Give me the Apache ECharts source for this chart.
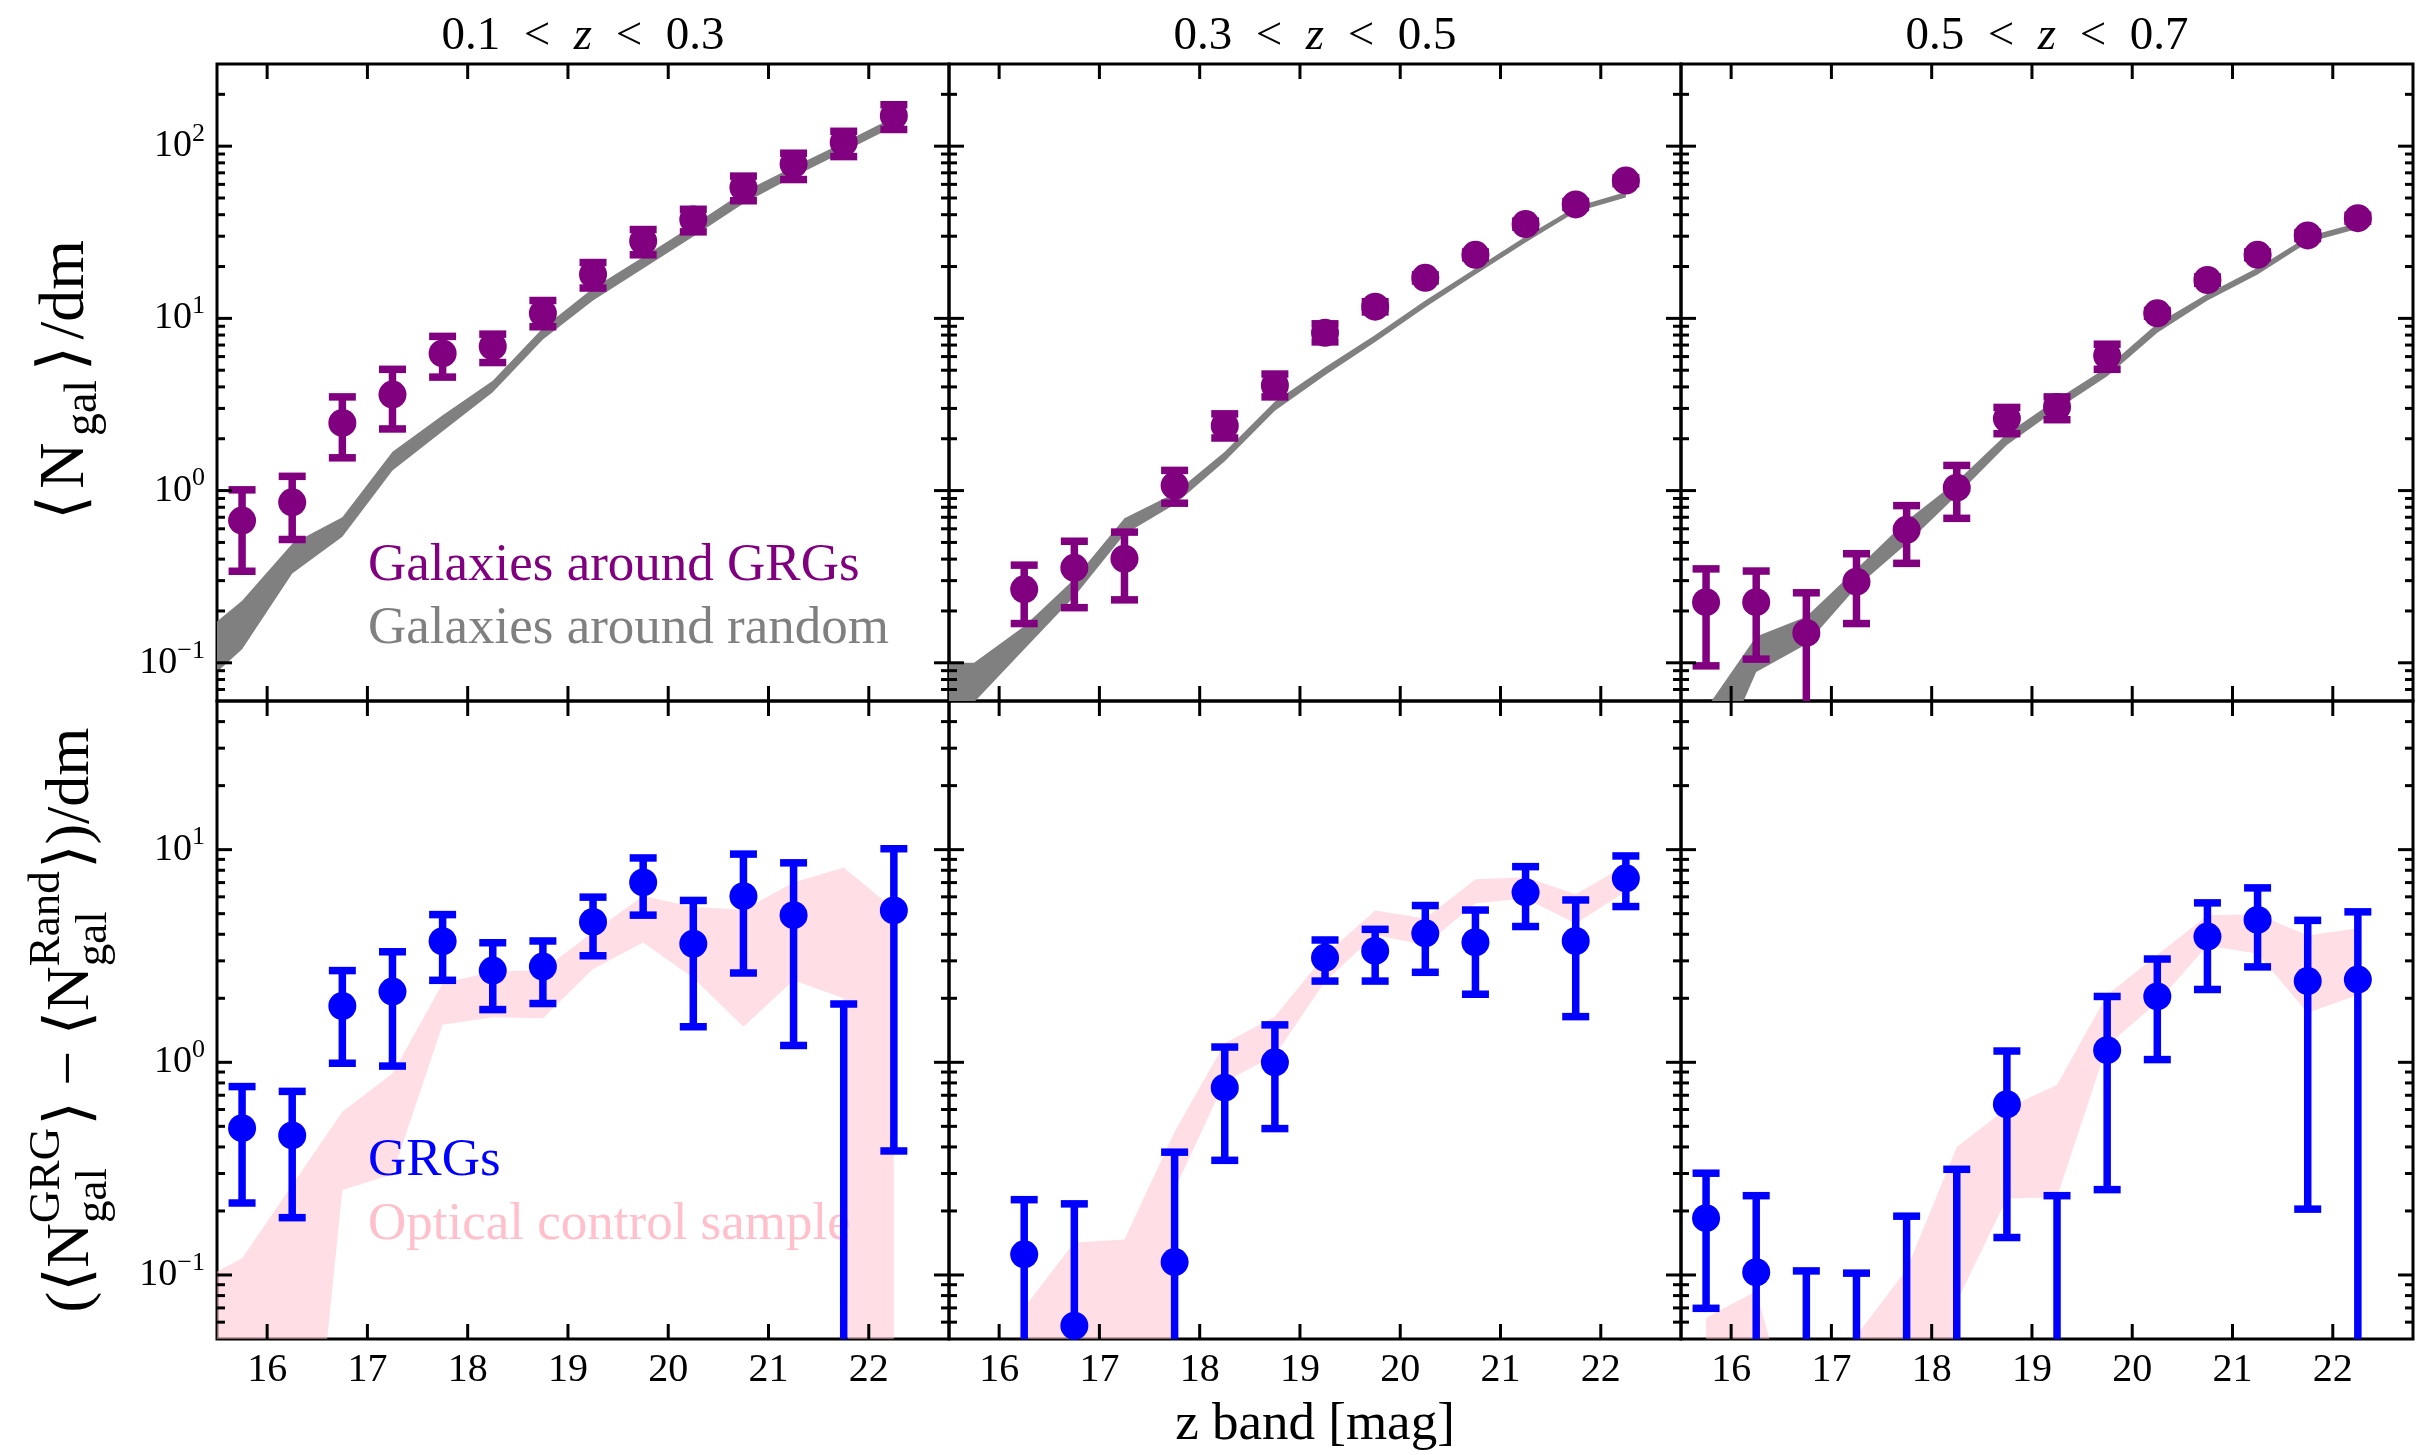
<!DOCTYPE html>
<html><head><meta charset="utf-8">
<script src="https://cdn.jsdelivr.net/npm/echarts@6/dist/echarts.min.js"></script>
<style>html,body{margin:0;padding:0;background:#fff}#c{width:2434px;height:1455px}</style>
</head><body><div id="c"></div>
<script>
// ---------------- data ----------------
const MAG = [15.75, 16.25, 16.75, 17.25, 17.75, 18.25, 18.75, 19.25, 19.75, 20.25, 20.75, 21.25, 21.75, 22.25];
const MAG_EXT = [15.25, 15.75, 16.25, 16.75, 17.25, 17.75, 18.25, 18.75, 19.25, 19.75, 20.25, 20.75, 21.25, 21.75, 22.25];
const MAG_FROM_1625 = [16.25, 16.75, 17.25, 17.75, 18.25, 18.75, 19.25, 19.75, 20.25, 20.75, 21.25, 21.75, 22.25];

const X_TICKS = [16, 17, 18, 19, 20, 21, 22];
const X_RANGE = [15.5, 22.8];
const Y_RANGE_TOP = [0.06, 300];
const Y_RANGE_BOT = [0.05, 50];
const Y_LABEL_EXP_TOP = [-1, 0, 1, 2];
const Y_LABEL_EXP_BOT = [-1, 0, 1];

const TITLES = [['0.1', '0.3'], ['0.3', '0.5'], ['0.5', '0.7']];
const LEGEND_TOP = ['Galaxies around GRGs', 'Galaxies around random'];
const LEGEND_BOT = ['GRGs', 'Optical control sample'];
const X_NAME = 'z band [mag]';

// top row: galaxies around GRGs (points with errors)
const GRG_Z1 = [0.67, 0.855, 2.47, 3.61, 6.26, 6.87, 10.7, 18.0, 28.1, 37.5, 57.6, 78.7, 105, 150];
const GRG_Z1_LO = [0.34, 0.52, 1.55, 2.28, 4.56, 5.54, 8.94, 15.0, 23.4, 31.8, 48.2, 64, 87, 125];
const GRG_Z1_HI = [1.01, 1.21, 3.5, 5.06, 7.86, 8.1, 12.7, 21.1, 32.8, 43, 67, 91, 122, 174];

const GRG_Z2 = [null, 0.267, 0.356, 0.402, 1.07, 2.38, 4.08, 8.25, 11.7, 17.2, 23.4, 35.3, 45.9, 63.1];
const GRG_Z2_LO = [null, 0.169, 0.209, 0.232, 0.845, 2.02, 3.5, 7.3, 10.9, 16.5, 22.5, 33.9, 44.1, 60.6];
const GRG_Z2_HI = [null, 0.369, 0.508, 0.574, 1.31, 2.79, 4.75, 9.3, 12.5, 17.9, 24.3, 36.7, 47.7, 65.6];

const GRG_Z3 = [0.225, 0.225, 0.149, 0.296, 0.592, 1.04, 2.62, 3.06, 6.08, 10.7, 16.7, 23.4, 30.3, 38.2];
const GRG_Z3_LO = [0.096, 0.105, 0.04, 0.169, 0.378, 0.69, 2.14, 2.58, 5.06, 10.3, 16.0, 22.5, 29.1, 36.7];
const GRG_Z3_HI = [0.351, 0.341, 0.255, 0.43, 0.818, 1.40, 3.04, 3.5, 7.08, 11.1, 17.4, 24.3, 31.5, 39.7];

// top row: galaxies around random positions (band)
const RAND_Z1_LO = [0.065, 0.12, 0.33, 0.54, 1.31, 2.21, 3.72, 7.53, 12.7, 19.5, 29.9, 46.5, 66.4, 92.9, 130];
const RAND_Z1_HI = [0.132, 0.229, 0.492, 0.70, 1.68, 2.74, 4.34, 8.78, 14.96, 22.7, 34.8, 54.2, 75.9, 105, 147];
const RAND_Z2_LO = [0.04, 0.059, 0.12, 0.243, 0.557, 0.83, 1.48, 2.91, 4.67, 7.3, 11.6, 18, 27.6, 41.4, 50.3];
const RAND_Z2_HI = [0.1, 0.1, 0.163, 0.307, 0.69, 0.966, 1.68, 3.29, 5.21, 8.0, 12.7, 19.5, 29.9, 44.5, 54.2];
const RAND_Z3_LO = [0.019, 0.0885, 0.128, 0.275, 0.492, 0.937, 1.84, 2.97, 4.61, 8.25, 12.7, 18, 27.6, 33.2];
const RAND_Z3_HI = [0.054, 0.142, 0.185, 0.351, 0.668, 1.13, 2.14, 3.39, 5.21, 9.33, 13.9, 19.7, 29.9, 35.9];

// bottom row: excess around GRGs (points with errors)
const EXC_Z1 = [0.49, 0.453, 1.84, 2.15, 3.71, 2.7, 2.82, 4.57, 7.01, 3.61, 6.04, 4.92, null, 5.18];
const EXC_Z1_LO = [0.218, 0.186, 0.99, 0.96, 2.43, 1.77, 1.89, 3.17, 4.92, 1.47, 2.63, 1.2, 0.001, 0.383];
const EXC_Z1_HI = [0.769, 0.73, 2.7, 3.31, 4.95, 3.65, 3.72, 5.98, 9.14, 5.77, 9.53, 8.67, 1.88, 10.1];

const EXC_Z2 = [null, 0.125, 0.0577, null, 0.115, 0.76, 1.0, 3.1, 3.34, 4.04, 3.67, 6.3, 3.72, 7.33];
const EXC_Z2_LO = [null, 0.001, 0.001, null, 0.001, 0.346, 0.488, 2.41, 2.41, 2.65, 2.09, 4.35, 1.64, 5.4];
const EXC_Z2_HI = [null, 0.226, 0.216, null, 0.378, 1.18, 1.5, 3.76, 4.22, 5.46, 5.2, 8.32, 5.8, 9.34];

const EXC_Z3 = [0.185, 0.103, null, null, null, null, 0.635, null, 1.14, 2.04, 3.9, 4.67, 2.41, 2.45];
const EXC_Z3_LO = [0.0697, 0.001, 0.001, 0.001, 0.001, 0.001, 0.15, 0.001, 0.252, 1.03, 2.2, 2.81, 0.204, 0.001];
const EXC_Z3_HI = [0.301, 0.236, 0.1045, 0.102, 0.189, 0.314, 1.13, 0.236, 2.04, 3.06, 5.62, 6.61, 4.65, 5.1];

// bottom row: optical control sample (band)
const CTRL_Z1_LO = [0.001, 0.001, 0.0012, 0.251, 0.298, 1.5, 1.63, 1.61, 2.75, 3.66, 2.49, 1.47, 2.43, 2.0, 1e-20];
const CTRL_Z1_HI = [0.09, 0.12, 0.265, 0.586, 0.887, 2.35, 2.67, 2.72, 4.1, 6.05, 5.37, 5.21, 7.0, 8.24, 5.26];
const CTRL_Z2_LO = [1e-20, 1e-20, 1e-20, 0.252, 0.81, 1.08, 2.4, 3.97, 3.56, 5.6, 5.9, 4.5, 6.35];
const CTRL_Z2_HI = [0.0703, 0.142, 0.147, 0.471, 1.23, 1.64, 3.2, 5.17, 4.75, 7.25, 7.41, 6.17, 8.47];
const CTRL_Z3_LO = [1e-20, 1e-20, 1e-20, 1e-20, 1e-20, 0.075, 0.229, 0.232, 1.2, 1.91, 3.54, 3.24, 1.71, 2.07];
const CTRL_Z3_HI = [0.063, 0.0838, 0.012, 0.052, 0.106, 0.4, 0.608, 0.785, 2.08, 3.2, 4.92, 4.97, 3.95, 4.27];

// ---------------- style / layout ----------------
const PURPLE = '#800080', BLUE = '#0000ff', GRAY = '#808080';
const PINK_BAND = 'rgba(255,192,203,0.5)', PINK_TEXT = '#ffc0cb';
const FONT = '"Liberation Serif", "DejaVu Serif", "DejaVu Sans", serif';
const GRID_LEFT = [217, 949, 1681], GRID_W = 732;
const ROW_TOP = [64, 701], ROW_H = [637, 638];

const PANELS = [
  {val: GRG_Z1, lo: GRG_Z1_LO, hi: GRG_Z1_HI, bx: MAG_EXT, blo: RAND_Z1_LO, bhi: RAND_Z1_HI, c: PURPLE, bc: GRAY},
  {val: GRG_Z2, lo: GRG_Z2_LO, hi: GRG_Z2_HI, bx: MAG_EXT, blo: RAND_Z2_LO, bhi: RAND_Z2_HI, c: PURPLE, bc: GRAY},
  {val: GRG_Z3, lo: GRG_Z3_LO, hi: GRG_Z3_HI, bx: MAG, blo: RAND_Z3_LO, bhi: RAND_Z3_HI, c: PURPLE, bc: GRAY},
  {val: EXC_Z1, lo: EXC_Z1_LO, hi: EXC_Z1_HI, bx: MAG_EXT, blo: CTRL_Z1_LO, bhi: CTRL_Z1_HI, c: BLUE, bc: PINK_BAND},
  {val: EXC_Z2, lo: EXC_Z2_LO, hi: EXC_Z2_HI, bx: MAG_FROM_1625, blo: CTRL_Z2_LO, bhi: CTRL_Z2_HI, c: BLUE, bc: PINK_BAND},
  {val: EXC_Z3, lo: EXC_Z3_LO, hi: EXC_Z3_HI, bx: MAG, blo: CTRL_Z3_LO, bhi: CTRL_Z3_HI, c: BLUE, bc: PINK_BAND}
];

function logTickList(min, max) {
  const out = [];
  for (let e = -3; e <= 3; e++) for (let m = 1; m <= 9; m++) {
    const v = +(m * Math.pow(10, e)).toPrecision(6);
    if (v > min * 1.0001 && v < max * 0.9999) out.push([X_RANGE[0], v, m === 1 ? 1 : 0]);
  }
  return out;
}

const grids = [], xAxes = [], yAxes = [], series = [];
for (let i = 0; i < 6; i++) {
  const row = i < 3 ? 0 : 1, col = i % 3;
  const yr = row === 0 ? Y_RANGE_TOP : Y_RANGE_BOT;
  const exps = row === 0 ? Y_LABEL_EXP_TOP : Y_LABEL_EXP_BOT;
  grids.push({left: GRID_LEFT[col], top: ROW_TOP[row], width: GRID_W, height: ROW_H[row],
    show: true, borderColor: '#000', borderWidth: 3, backgroundColor: 'rgba(0,0,0,0)',
    containLabel: false, outerBoundsMode: 'none'});
  xAxes.push({gridIndex: i, type: 'value', min: X_RANGE[0], max: X_RANGE[1],
    axisLine: {show: false}, axisTick: {show: false}, splitLine: {show: false},
    axisLabel: {show: row === 1, margin: 11, fontSize: 40, fontFamily: FONT, color: '#000',
      showMinLabel: false, showMaxLabel: false,
      formatter: v => X_TICKS.includes(v) ? String(v) : ''}});
  yAxes.push({gridIndex: i, type: 'log', logBase: 10, min: yr[0], max: yr[1],
    axisLine: {show: false}, axisTick: {show: false}, splitLine: {show: false}, minorTick: {show: false},
    axisLabel: {show: col === 0, margin: 12, showMinLabel: false, showMaxLabel: false,
      formatter: v => {
        const l = Math.log10(v), e = Math.round(l);
        if (Math.abs(l - e) > 1e-6 || !exps.includes(e)) return '';
        return '{b|10}{s|' + (e < 0 ? '\u2212' + (-e) : String(e)) + '}';
      },
      rich: {
        b: {fontSize: 38, fontFamily: FONT, color: '#000', lineHeight: 50, verticalAlign: 'middle'},
        s: {fontSize: 26, fontFamily: FONT, color: '#000', lineHeight: 26, verticalAlign: 'top'}
      }}});

  const P = PANELS[i];
  // band
  series.push({type: 'custom', xAxisIndex: i, yAxisIndex: i, z: 1, clip: true, silent: true,
    data: P.bx.map((x, k) => [x, P.blo[k], P.bhi[k]]),
    renderItem: (params, api) => {
      if (params.dataIndex !== 0) return null;
      const top = P.bx.map((x, k) => api.coord([x, P.bhi[k]]));
      const bot = P.bx.map((x, k) => api.coord([x, P.blo[k]])).reverse();
      return {type: 'polygon', shape: {points: top.concat(bot)}, style: {fill: P.bc, stroke: null}};
    }});
  // error bars
  const ebData = [];
  MAG.forEach((x, k) => { if (P.lo[k] != null) ebData.push([x, P.lo[k], P.hi[k]]); });
  series.push({type: 'custom', xAxisIndex: i, yAxisIndex: i, z: 3, clip: true, silent: true,
    data: ebData,
    renderItem: (params, api) => {
      const x = api.value(0);
      const a = api.coord([x, api.value(1)]), b = api.coord([x, api.value(2)]);
      const hw = 13.5, st = {stroke: P.c, lineWidth: 7.5};
      return {type: 'group', children: [
        {type: 'line', shape: {x1: a[0], y1: a[1], x2: b[0], y2: b[1]}, style: st},
        {type: 'line', shape: {x1: a[0] - hw, y1: a[1], x2: a[0] + hw, y2: a[1]}, style: st},
        {type: 'line', shape: {x1: b[0] - hw, y1: b[1], x2: b[0] + hw, y2: b[1]}, style: st}
      ]};
    }});
  // markers
  const pts = [];
  MAG.forEach((x, k) => { if (P.val[k] != null) pts.push([x, P.val[k]]); });
  series.push({type: 'scatter', xAxisIndex: i, yAxisIndex: i, z: 4, silent: true,
    symbol: 'circle', symbolSize: 28, itemStyle: {color: P.c, opacity: 1}, data: pts});
  // y ticks (both sides, major + minor)
  series.push({type: 'custom', xAxisIndex: i, yAxisIndex: i, z: 5, clip: false, silent: true,
    data: logTickList(yr[0], yr[1]),
    renderItem: (params, api) => {
      const cs = params.coordSys;
      const y = api.coord([api.value(0), api.value(1)])[1];
      const L = api.value(2) ? 15 : 8, st = {stroke: '#000', lineWidth: 3};
      return {type: 'group', children: [
        {type: 'line', shape: {x1: cs.x, y1: y, x2: cs.x + L, y2: y}, style: st},
        {type: 'line', shape: {x1: cs.x + cs.width, y1: y, x2: cs.x + cs.width - L, y2: y}, style: st}
      ]};
    }});
  // x ticks (top and bottom)
  series.push({type: 'custom', xAxisIndex: i, yAxisIndex: i, z: 5, clip: false, silent: true,
    data: X_TICKS.map(t => [t, 1]),
    renderItem: (params, api) => {
      const cs = params.coordSys;
      const x = api.coord([api.value(0), api.value(1)])[0];
      const L = 15, st = {stroke: '#000', lineWidth: 3};
      return {type: 'group', children: [
        {type: 'line', shape: {x1: x, y1: cs.y + cs.height, x2: x, y2: cs.y + cs.height - L}, style: st},
        {type: 'line', shape: {x1: x, y1: cs.y, x2: x, y2: cs.y + L}, style: st}
      ]};
    }});
}

// ---------------- math-like rotated axis titles ----------------
const mctx = document.createElement('canvas').getContext('2d');
function tw(t, s) { mctx.font = s + 'px ' + FONT; return mctx.measureText(t).width; }
function mathTitle(parts, base, cx, cy, gap) {
  gap = gap || 0;
  const small = Math.round(base * 0.72);
  const items = []; let x = 0;
  parts.forEach((p, idx) => {
    if (idx > 0) x += gap * base;
    if (p.t !== undefined) { items.push({t: p.t, s: base, x: x, dy: 0}); x += tw(p.t, base); }
    else {
      let adv = 0;
      if (p.sup) { items.push({t: p.sup, s: small, x: x, dy: p.sub ? -0.40 * base : -0.34 * base}); adv = Math.max(adv, tw(p.sup, small)); }
      if (p.sub) { items.push({t: p.sub, s: small, x: x, dy: p.sup ? 0.36 * base : 0.28 * base}); adv = Math.max(adv, tw(p.sub, small)); }
      x += adv + 0.04 * base;
    }
  });
  const W = x;
  return {type: 'group', x: cx, y: cy, rotation: Math.PI / 2, z: 10,
    children: items.map(it => ({type: 'text', x: it.x - W / 2, y: it.dy, z: 10,
      style: {text: it.t, font: it.s + 'px ' + FONT, fill: '#000',
        align: 'left', verticalAlign: 'middle', textAlign: 'left', textVerticalAlign: 'middle'}}))};
}

const graphics = [];
// panel titles
TITLES.forEach((t, col) => {
  graphics.push({type: 'text', x: GRID_LEFT[col] + GRID_W / 2, y: 37, z: 10,
    style: {text: '{n|' + t[0] + '\u2002<\u2002}{i|z}{n|\u2002<\u2002' + t[1] + '}',
      rich: {n: {fontSize: 47, fontFamily: FONT, fill: '#000', color: '#000'},
             i: {fontSize: 47, fontFamily: FONT, fontStyle: 'italic', fill: '#000', color: '#000'}},
      align: 'center', verticalAlign: 'middle', textAlign: 'center', textVerticalAlign: 'middle'}});
});
// x axis name
graphics.push({type: 'text', x: GRID_LEFT[1] + GRID_W / 2, y: 1425, z: 10,
  style: {text: X_NAME, font: '53px ' + FONT, fill: '#000',
    align: 'center', verticalAlign: 'middle', textAlign: 'center', textVerticalAlign: 'middle'}});
// legends (text labels)
function legendText(t, x, y, color) {
  return {type: 'text', x: x, y: y, z: 2,
    style: {text: t, font: '53px ' + FONT, fill: color,
      align: 'left', verticalAlign: 'middle', textAlign: 'left', textVerticalAlign: 'middle'}};
}
graphics.push(legendText(LEGEND_TOP[0], 368, 566, PURPLE));
graphics.push(legendText(LEGEND_TOP[1], 368, 629, GRAY));
graphics.push(legendText(LEGEND_BOT[0], 368, 1161, BLUE));
graphics.push(legendText(LEGEND_BOT[1], 368, 1225, PINK_TEXT));
// y axis titles
graphics.push(mathTitle([{t: '\u27E8'}, {t: 'N'}, {sub: 'gal'}, {t: '\u27E9'}, {t: '/dm'}], 64, 66, 380, 0.1));
graphics.push(mathTitle([{t: '(\u27E8N'}, {sup: 'GRG', sub: 'gal'}, {t: '\u27E9 \u2212 \u27E8N'}, {sup: 'Rand', sub: 'gal'}, {t: '\u27E9)/dm'}], 62, 72, 1020));

const chart = echarts.init(document.getElementById('c'), null, {renderer: 'canvas', width: 2434, height: 1455});
chart.setOption({
  animation: false,
  backgroundColor: '#fff',
  grid: grids, xAxis: xAxes, yAxis: yAxes, series: series,
  graphic: {elements: graphics}
});
</script>
</body></html>
